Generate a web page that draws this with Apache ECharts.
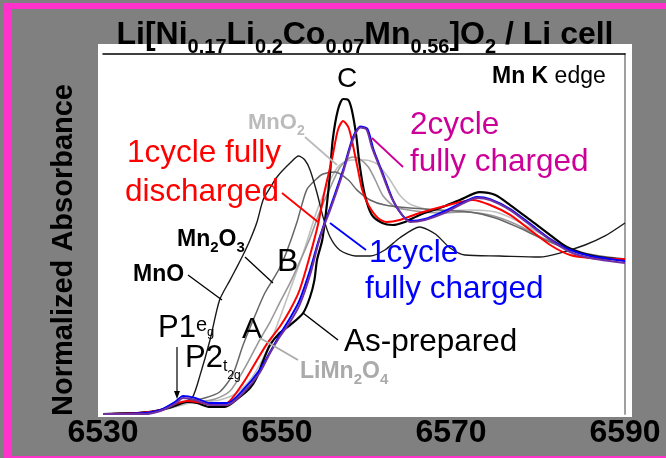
<!DOCTYPE html>
<html><head><meta charset="utf-8">
<script src="https://cdn.jsdelivr.net/npm/echarts@6/dist/echarts.min.js"></script>
<style>html,body{margin:0;padding:0;background:#808080;}#c{width:666px;height:458px;}</style>
</head><body><div id="c"></div>
<script>
const xTicks = [6530, 6550, 6570, 6590];
// [energy (eV), normalized absorbance]
const mnO = [[6530.0,0],[6535.4,.011],[6537.7,.033],[6539.4,.067],[6540.3,.094],[6541.1,.206],[6542.3,.411],[6543.4,.633],[6544.6,.744],[6545.4,.817],[6546.1,.883],[6546.9,.967],[6547.7,1.067],[6548.4,1.189],[6549.2,1.256],[6550.0,1.317],[6551.5,1.394],[6552.5,1.433],[6553.2,1.411],[6553.8,1.356],[6554.6,1.228],[6555.3,1.094],[6556.1,.983],[6557.2,.911],[6559.0,.878],[6560.7,.878],[6562.4,.911],[6564.1,.978],[6566.4,1.039],[6568.2,1.0],[6569.9,.922],[6571.6,.883],[6575.6,.878],[6580.2,.872],[6582.5,.894],[6585.4,.939],[6587.7,.989],[6590.0,1.061]];
const mn2O3 = [[6530.0,0],[6535.4,.011],[6538.3,.044],[6540.0,.072],[6541.7,.089],[6543.4,.122],[6544.9,.217],[6546.1,.383],[6547.5,.55],[6548.6,.672],[6549.5,.744],[6550.3,.811],[6551.1,.9],[6552.3,1.067],[6553.4,1.244],[6554.4,1.3],[6555.3,1.333],[6556.7,1.344],[6558.2,1.3],[6559.2,1.244],[6560.7,1.189],[6562.4,1.161],[6565.3,1.144],[6568.7,1.133],[6572.2,1.122],[6575.1,1.089],[6577.9,1.033],[6580.8,.967],[6583.7,.911],[6587.1,.878],[6590.0,.861]];
const liMn2O4 = [[6530.0,0],[6535.4,.011],[6538.3,.044],[6539.8,.072],[6541.1,.072],[6542.9,.083],[6544.6,.128],[6546.3,.256],[6548.0,.411],[6549.2,.511],[6550.3,.617],[6551.5,.728],[6552.6,.844],[6553.8,.978],[6554.9,1.122],[6556.1,1.256],[6557.2,1.367],[6558.0,1.411],[6558.7,1.428],[6559.5,1.417],[6560.5,1.372],[6561.3,1.3],[6562.2,1.211],[6563.6,1.15],[6565.9,1.128],[6568.7,1.117],[6571.6,1.122],[6574.5,1.106],[6577.4,1.056],[6580.8,.972],[6584.3,.906],[6587.1,.872],[6590.0,.856]];
const mnO2 = [[6530.0,0],[6535.4,.011],[6538.3,.039],[6540.0,.061],[6541.7,.067],[6543.4,.078],[6545.2,.111],[6546.9,.189],[6548.3,.3],[6549.8,.467],[6551.5,.689],[6553.2,.922],[6554.7,1.144],[6556.1,1.3],[6557.2,1.383],[6558.6,1.411],[6560.1,1.411],[6561.5,1.389],[6563.0,1.3],[6564.1,1.217],[6565.5,1.161],[6568.7,1.128],[6572.2,1.133],[6575.1,1.122],[6577.4,1.078],[6580.8,.989],[6584.3,.911],[6587.1,.872],[6590.0,.85]];
const asPrepared = [[6530.0,0],[6534.3,.006],[6536.6,.022],[6538.3,.05],[6539.7,.067],[6540.8,.061],[6542.3,.039],[6544.0,.039],[6545.7,.094],[6546.9,.144],[6547.7,.206],[6548.3,.283],[6549.2,.383],[6550.3,.45],[6551.5,.494],[6553.0,.561],[6553.8,.65],[6554.3,.744],[6554.6,.856],[6555.2,.967],[6555.7,1.15],[6556.1,1.339],[6556.4,1.522],[6557.0,1.689],[6557.6,1.75],[6558.2,1.744],[6558.6,1.689],[6559.1,1.55],[6559.5,1.383],[6560.1,1.217],[6560.9,1.106],[6562.1,1.061],[6563.3,1.05],[6564.7,1.067],[6566.4,1.106],[6568.7,1.144],[6571.0,1.189],[6573.3,1.233],[6575.1,1.217],[6576.8,1.161],[6579.1,1.078],[6581.4,.994],[6583.3,.928],[6585.4,.889],[6587.7,.867],[6590.0,.856]];
const discharged1 = [[6530.0,0],[6534.3,.006],[6536.6,.022],[6538.3,.056],[6539.7,.072],[6540.8,.067],[6542.3,.056],[6544.0,.056],[6546.1,.172],[6547.7,.3],[6548.9,.394],[6550.3,.483],[6551.5,.578],[6552.6,.689],[6553.8,.883],[6554.7,1.05],[6555.5,1.244],[6556.3,1.411],[6557.0,1.578],[6557.6,1.628],[6558.2,1.594],[6558.6,1.522],[6559.2,1.383],[6559.8,1.244],[6560.5,1.161],[6561.6,1.089],[6562.6,1.067],[6564.1,1.078],[6566.4,1.117],[6569.3,1.156],[6572.5,1.189],[6574.5,1.161],[6576.8,1.106],[6579.1,1.022],[6581.4,.939],[6583.7,.883],[6586.0,.867],[6590.0,.861]];
const charged1 = [[6530.0,0],[6534.8,.006],[6536.6,.022],[6538.3,.067],[6539.2,.1],[6540.6,.089],[6542.3,.061],[6544.3,.061],[6546.1,.133],[6548.0,.244],[6549.2,.344],[6550.3,.439],[6551.5,.533],[6552.6,.633],[6553.8,.8],[6554.7,.95],[6555.3,1.039],[6556.1,1.144],[6557.6,1.356],[6558.7,1.533],[6559.6,1.597],[6560.4,1.583],[6561.1,1.467],[6562.1,1.344],[6563.6,1.161],[6565.3,1.072],[6567.0,1.083],[6569.3,1.128],[6571.0,1.167],[6573.0,1.206],[6574.5,1.194],[6576.8,1.139],[6579.1,1.056],[6581.4,.972],[6583.7,.911],[6586.0,.878],[6590.0,.85]];
const charged2 = [[6530.0,0],[6534.8,0],[6536.6,.017],[6538.3,.056],[6539.2,.089],[6540.6,.078],[6542.3,.05],[6544.3,.05],[6546.1,.117],[6548.0,.228],[6549.2,.339],[6550.3,.428],[6551.5,.511],[6552.6,.606],[6553.8,.772],[6554.7,.939],[6555.3,1.033],[6556.1,1.133],[6557.6,1.344],[6558.7,1.522],[6559.6,1.592],[6560.3,1.58],[6560.9,1.483],[6561.8,1.372],[6563.3,1.189],[6565.3,1.067],[6567.0,1.078],[6569.3,1.117],[6571.0,1.161],[6573.0,1.2],[6574.5,1.189],[6576.8,1.133],[6579.1,1.05],[6581.4,.967],[6583.7,.9],[6586.0,.867],[6590.0,.839]];

const FF = '"Liberation Sans", Arial, sans-serif';
const chart = echarts.init(document.getElementById('c'), null, {renderer:'canvas'});

function T(x, y, text, font, fill, extra) {
  const style = Object.assign({text: text, font: font, fill: fill, align: 'left', verticalAlign: 'top', textAlign: 'left', textVerticalAlign: 'top'}, extra || {});
  return {type: 'text', x: x, y: y, z: 30, silent: true, style: style};
}
function L(x1, y1, x2, y2, color, w) {
  return {type: 'line', z: 30, silent: true, shape: {x1: x1, y1: y1, x2: x2, y2: y2}, style: {stroke: color, lineWidth: w || 1.5}};
}
function sub(main, subSize, pad, bold, color) {
  const wt = bold ? 'bold' : 'normal';
  return {
    m: {fontSize: main, fontWeight: wt, fontFamily: FF, lineHeight: main, verticalAlign: 'top', fill: color},
    s: {fontSize: subSize, fontWeight: wt, fontFamily: FF, padding: [pad, 0, 0, 0], verticalAlign: 'top', fill: color}
  };
}
const LF = '31.5px ' + FF;

const graphics = [
  {type: 'rect', z: 0, silent: true, shape: {x: 4, y: 3, width: 662, height: 6}, style: {fill: '#ff33cc'}},
  {type: 'rect', z: 0, silent: true, shape: {x: 4, y: 3, width: 7, height: 455}, style: {fill: '#ff33cc'}},
  {type: 'rect', z: 0, silent: true, shape: {x: 4, y: 456, width: 662, height: 2}, style: {fill: '#ff33cc'}},
  {type: 'rect', z: 0, silent: true, shape: {x: 98, y: 44, width: 534, height: 373}, style: {fill: '#ffffff'}},
  T(365, 19, '{m|Li[Ni}{s|0.17}{m|Li}{s|0.2}{m|Co}{s|0.07}{m|Mn}{s|0.56}{m|]O}{s|2}{m| / Li cell}', 'bold 32px ' + FF, '#000',
    {align: 'center', textAlign: 'center', rich: sub(32, 20, 18, true, '#000')}),
  {type: 'text', x: 64, y: 250, rotation: Math.PI / 2, z: 30, silent: true,
   style: {text: 'Normalized Absorbance', font: 'bold 29px ' + FF, fill: '#000', align: 'center', verticalAlign: 'middle', textAlign: 'center', textVerticalAlign: 'middle'}},
  T(492, 65.5, '{b|Mn K }{n|edge}', '23px ' + FF, '#000', {rich: {b: {fontSize: 23, fontWeight: 'bold', fontFamily: FF, fill: '#000'}, n: {fontSize: 23, fontFamily: FF, fill: '#000'}}}),
  T(347, 65.3, 'C', '28px ' + FF, '#000', {align: 'center', textAlign: 'center'}),
  T(277, 246.1, 'B', '32px ' + FF, '#000'),
  T(242, 314.7, 'A', '30px ' + FF, '#000'),
  T(248, 112.2, '{m|MnO}{s|2}', 'bold 22px ' + FF, '#bbbbbb', {rich: sub(22, 14, 11.5, true, '#bbbbbb')}),
  L(305, 137, 337, 165, '#bbbbbb', 1.8),
  T(127, 137, '1cycle fully', LF, '#ff0000'),
  T(125, 176, 'discharged', LF, '#ff0000'),
  L(282, 193, 318, 222, '#ff0000', 1.8),
  T(410, 109, '2cycle', LF, '#cc0099'),
  T(410, 146, 'fully charged', LF, '#cc0099'),
  L(372, 138, 403, 167, '#cc0099', 1.8),
  T(369, 237.5, '1cycle', LF, '#0000ff'),
  T(365, 273, 'fully charged', LF, '#0000ff'),
  L(330, 223, 366, 250, '#0000ff', 1.8),
  T(344, 326, 'As-prepared', LF, '#000'),
  L(303, 313, 338, 340, '#000', 1.5),
  T(177, 228.4, '{m|Mn}{s|2}{m|O}{s|3}', 'bold 23px ' + FF, '#000', {rich: sub(23, 15, 11.5, true, '#000')}),
  L(245, 257, 273, 283, '#000', 1.3),
  T(133, 263.4, 'MnO', 'bold 23px ' + FF, '#000'),
  L(188, 275, 222, 300, '#000', 1.3),
  T(300, 360.4, '{m|LiMn}{s|2}{m|O}{s|4}', 'bold 23px ' + FF, '#aaaaaa', {rich: sub(23, 15, 11.5, true, '#aaaaaa')}),
  L(260, 338, 298, 360, '#aaaaaa', 1.8),
  T(158, 312.9, '{m|P1}{e|e}{g|g}', '31px ' + FF, '#000', {rich: {
     m: {fontSize: 31, fontFamily: FF, lineHeight: 31, verticalAlign: 'top', fill: '#000'},
     e: {fontSize: 20, fontFamily: FF, padding: [3, 0, 0, 0], verticalAlign: 'top', fill: '#000'},
     g: {fontSize: 13, fontFamily: FF, padding: [12.6, 0, 0, 0], verticalAlign: 'top', fill: '#000'}}}),
  T(185, 342.9, '{m|P2}{t|t}{g|2g}', '31px ' + FF, '#000', {rich: {
     m: {fontSize: 31, fontFamily: FF, lineHeight: 31, verticalAlign: 'top', fill: '#000'},
     t: {fontSize: 16, fontFamily: FF, padding: [16, 0, 0, 0], verticalAlign: 'top', fill: '#000'},
     g: {fontSize: 12, fontFamily: FF, padding: [26.4, 0, 0, 0], verticalAlign: 'top', fill: '#000'}}}),
  L(177, 347, 177, 394, '#000', 1.2),
  {type: 'polygon', z: 30, silent: true, shape: {points: [[174, 391], [180, 391], [177, 399]]}, style: {fill: '#000'}}
];

function S(name, data, color, width) {
  return {name: name, type: 'line', data: data, showSymbol: false, symbol: 'none', smooth: 0.25,
          lineStyle: {color: color, width: width}, itemStyle: {color: color}, animation: false, silent: true};
}

chart.setOption({
  backgroundColor: '#808080',
  animation: false,
  grid: {left: 103, right: 41, top: 54, bottom: 44},
  xAxis: [
    {type: 'value', min: xTicks[0], max: xTicks[xTicks.length - 1], interval: 20, position: 'bottom',
     axisLine: {show: false}, axisTick: {show: false}, splitLine: {show: false},
     axisLabel: {show: true, color: '#000', fontSize: 32, fontWeight: 'bold', fontFamily: FF, margin: 3,
       formatter: function (v) { return xTicks.indexOf(v) >= 0 ? String(v) : ''; }}},
    {type: 'value', min: xTicks[0], max: xTicks[xTicks.length - 1], position: 'top',
     axisLine: {show: true, onZero: false, lineStyle: {color: '#000', width: 1.5}}, axisTick: {show: false}, axisLabel: {show: false}, splitLine: {show: false}}
  ],
  yAxis: {type: 'value', min: 0, max: 2, position: 'right',
    axisLine: {show: true, lineStyle: {color: '#a0a0a0', width: 2}}, axisTick: {show: false}, axisLabel: {show: false}, splitLine: {show: false}},
  graphic: {elements: graphics},
  series: [
    S('MnO2', mnO2, '#c0c0c0', 1.6),
    S('LiMn2O4', liMn2O4, '#999999', 1.6),
    S('Mn2O3', mn2O3, '#666666', 1.5),
    S('MnO', mnO, '#1a1a1a', 1.4),
    S('As-prepared', asPrepared, '#000000', 2.2),
    S('1cycle fully discharged', discharged1, '#ff0000', 2),
    S('1cycle fully charged', charged1, '#0000ff', 2),
    S('2cycle fully charged', charged2, '#7030a0', 2)
  ]
});
</script>
</body></html>
